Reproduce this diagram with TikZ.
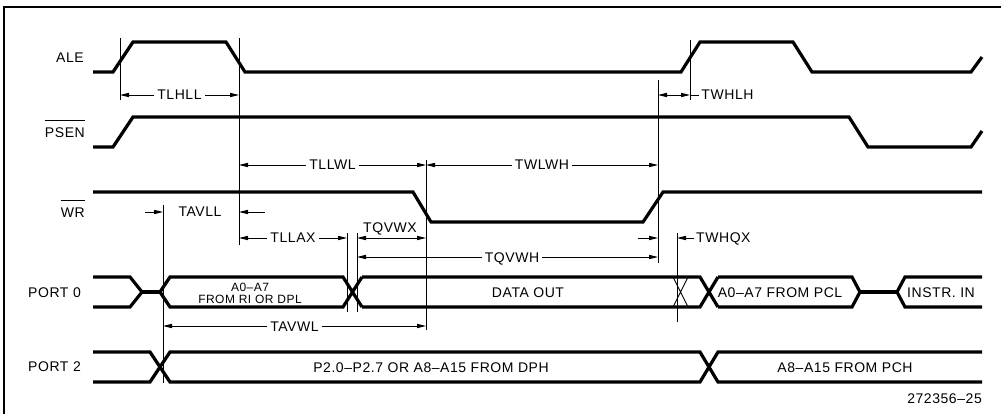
\documentclass[tikz,border=0pt]{standalone}
\usepackage{fontspec}
\setmainfont{Liberation Sans}
\newfontfamily\lblfont[LetterSpace=4]{Liberation Sans}
\usetikzlibrary{arrows.meta}
\begin{document}
\begin{tikzpicture}[x=1pt,y=-1pt,
  sig/.style={line width=3.2pt},
  thn/.style={line width=0.9pt},
  dim/.style={thn,{Triangle[length=9pt,width=4.2pt]}-{Triangle[length=9pt,width=4.2pt]}},
  arr/.style={thn,-{Triangle[length=9pt,width=4.2pt]}},
  lab/.style={font=\lblfont\fontsize{14}{14}\selectfont,inner sep=0pt,text height=10pt,text depth=0pt},
  gap/.style={lab,fill=white,inner xsep=3pt},
  small/.style={font=\lblfont\fontsize{12}{12}\selectfont,inner sep=0pt,text height=8.6pt,text depth=0pt}]
\useasboundingbox (0,0) rectangle (1001,414);
\draw[line width=1.2pt] (1001,7) -- (4,7) -- (4,414);
% signal names
\node[lab,anchor=east] (ale) at (84,58) {ALE};
\node[lab,anchor=east] (psen) at (85,132.5) {PSEN};
\node[lab,anchor=east] (wr) at (85,212.5) {WR};
\node[lab,anchor=east] (p0) at (81,292.5) {PORT 0};
\node[lab,anchor=east] (p2) at (81,366.5) {PORT 2};
\draw[thn] ([yshift=6.5pt]psen.north west) -- ([yshift=6.5pt]psen.north east);
\draw[thn] ([yshift=6.5pt]wr.north west) -- ([yshift=6.5pt]wr.north east);
% waveforms
\draw[sig] (93,72) -- (113,72) -- (133,42) -- (226,42) -- (245,72) -- (681,72) -- (700,42) -- (793,42) -- (812,72) -- (971,72) -- (982,57);
\draw[sig] (93,147) -- (113,147) -- (133,117) -- (849,117) -- (868,147) -- (971,147) -- (982,131);
\draw[sig] (93,192) -- (413,192) -- (431,222) -- (643,222) -- (663,192) -- (982,192);
% port 0
\draw[sig] (93,277) -- (130,277) -- (142,292) -- (130,307) -- (93,307);
\draw[sig] (142,292) -- (160,292);
\draw[sig] (362,307) -- (343,277) -- (170,277) -- (160,292) -- (170,307) -- (343,307) -- (362,277);
\draw[sig] (718,307) -- (700,277) -- (362,277);
\draw[sig] (718,277) -- (700,307) -- (362,307);
\draw[thn] (673,277) -- (688,307) (673,307) -- (688,277);
\draw[sig] (982,277) -- (905,277) -- (897,292) -- (905,307) -- (982,307);
\draw[sig] (897,292) -- (860,292);
\draw[sig] (718,277) -- (852,277) -- (860,292) -- (852,307) -- (718,307);
% port 2
\draw[sig] (93,352) -- (150,352) -- (170,382) -- (700,382) -- (718,352) -- (982,352);
\draw[sig] (93,382) -- (150,382) -- (170,352) -- (700,352) -- (718,382) -- (982,382);
% vertical reference lines
\draw[thn] (120,38) -- (120,100);
\draw[thn] (239,38) -- (239,245);
\draw[thn] (658,80) -- (658,263);
\draw[thn] (690,40) -- (690,100);
\draw[thn] (426,160) -- (426,330);
\draw[thn] (163,205) -- (163,383);
\draw[thn] (347,233) -- (347,312);
\draw[thn] (357,233) -- (357,312);
\draw[thn] (677,233) -- (677,322);
% dimensions
\draw[dim] (120,95) -- (239,95) node[gap,midway] (tlhll) {TLHLL};
\draw[dim] (658,95) -- (690,95);
\draw[thn] (690,95) -- (699,95) node[lab,anchor=west,xshift=2pt] (twhlh) {TWHLH};
\draw[dim] (239,165) -- (426,165) node[gap,midway] (tllwl) {TLLWL};
\draw[dim] (426,165) -- (658,165) node[gap,midway] (twlwh) {TWLWH};
\draw[arr] (145,212) -- (163,212);
\node[lab] (tavll) at (200,212) {TAVLL};
\draw[arr] (265,212) -- (239,212);
\draw[dim] (239,238) -- (347,238) node[gap,midway] (tllax) {TLLAX};
\draw[dim] (357,238) -- (426,238);
\node[lab] (tqvwx) at (390,227.5) {TQVWX};
\draw[arr] (638,238) -- (658,238);
\draw[arr] (694,238) -- (677,238);
\node[lab,anchor=west] (twhqx) at (696,238) {TWHQX};
\draw[dim] (357,257) -- (658,257);
\node[gap] (tqvwh) at (512,257) {TQVWH};
\draw[dim] (163,326) -- (426,326) node[gap,midway] (tavwl) {TAVWL};
% bus texts
\node[small] (a07) at (250,287.5) {A0–A7};
\node[small] (frl) at (250,299) {FROM RI OR DPL};
\node[lab] (dout) at (528,292) {DATA OUT};
\node[lab] (pcl) at (780,292) {A0–A7 FROM PCL};
\node[lab] (instr) at (941,292) {INSTR. IN};
\node[lab] (dph) at (431,367) {P2.0–P2.7 OR A8–A15 FROM DPH};
\node[lab] (pch) at (845,367) {A8–A15 FROM PCH};
\node[lab,anchor=east] (fig) at (982,398) {272356–25};
\end{tikzpicture}
\end{document}
